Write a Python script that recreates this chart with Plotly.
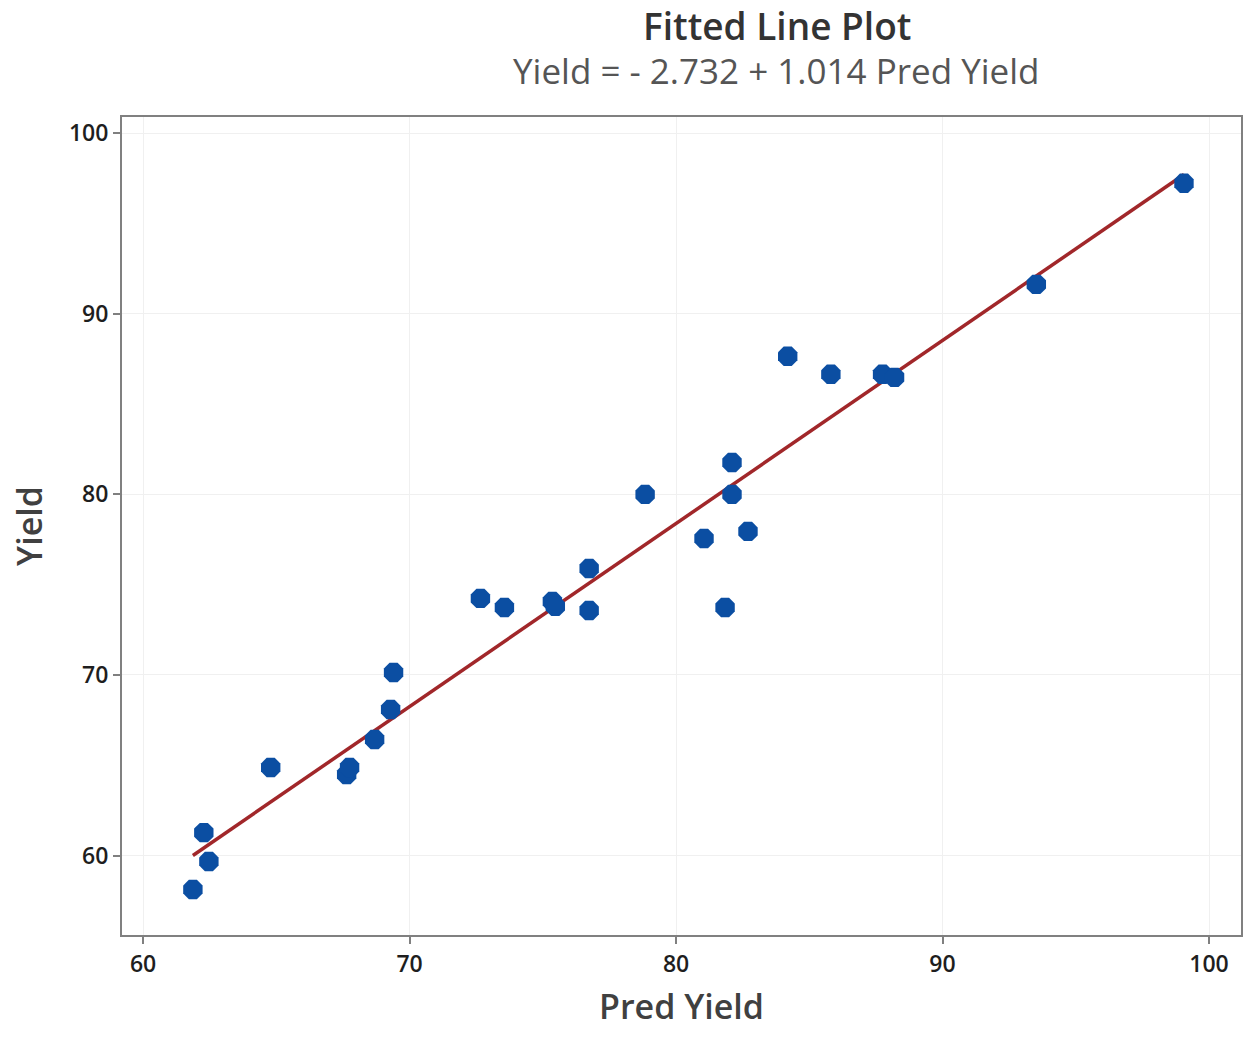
import plotly.graph_objects as go

pred_yield = [61.87, 62.28, 62.47, 64.79, 67.64, 67.75, 68.69, 69.29, 69.40,
              72.66, 73.56, 75.36, 75.47, 76.74, 76.74, 78.84, 81.05, 81.84,
              82.10, 82.10, 82.70, 84.19, 85.81, 87.75, 88.20, 93.52, 99.06]
yield_vals = [58.12, 61.27, 59.67, 64.88, 64.49, 64.88, 66.43, 68.09, 70.14,
              74.24, 73.74, 74.07, 73.80, 75.90, 73.57, 80.00, 77.56, 73.74,
              81.77, 80.00, 77.95, 87.65, 86.65, 86.65, 86.48, 91.63, 97.23]
intercept = -2.732
slope = 1.014
x_ticks = [60, 70, 80, 90, 100]
y_ticks = [60, 70, 80, 90, 100]

xmin, xmax = min(pred_yield), max(pred_yield)
line_x = [xmin, xmax]
line_y = [intercept + slope * v for v in line_x]

FONT = "Open Sans"
W, H = 1250, 1038
pl, pr, pt, pb = 122, 7, 117, 103

fig = go.Figure()
fig.add_trace(go.Scatter(x=line_x, y=line_y, mode="lines",
                         line=dict(color="#A1272A", width=3.5),
                         showlegend=False, hoverinfo="skip"))
fig.add_trace(go.Scatter(x=pred_yield, y=yield_vals, mode="markers",
                         marker=dict(symbol="octagon", size=21, color="#0B4EA2",
                                     line=dict(width=0)),
                         showlegend=False))

axis_common = dict(showline=True, linecolor="#808080", linewidth=2, mirror=True,
                   showgrid=True, gridcolor="#F0F0F0", gridwidth=1,
                   ticks="outside", ticklen=7, tickwidth=2, tickcolor="#808080",
                   zeroline=False,
                   tickfont=dict(family=FONT, size=23, color="#1E1E1E", weight=600))

pw, ph = W - pl - pr, H - pt - pb
def px_to_paper(xp, yp):
    return (xp - pl) / pw, (H - pb - yp) / ph

t0 = px_to_paper(778, 25)
t1 = px_to_paper(777, 70)

fig.update_layout(
    width=W, height=H,
    paper_bgcolor="white", plot_bgcolor="white",
    margin=dict(l=pl, r=pr, t=pt, b=pb),
    xaxis=dict(range=[59.21, 101.2], tickvals=x_ticks, **axis_common,
               title=dict(text="Pred Yield", standoff=18,
                          font=dict(family=FONT, size=34, color="#404040", weight=600))),
    yaxis=dict(range=[55.6, 100.9], tickvals=y_ticks, **axis_common,
               title=dict(text="Yield", standoff=16,
                          font=dict(family=FONT, size=34, color="#404040", weight=600))),
    annotations=[
        dict(text="Fitted Line Plot", x=t0[0], y=t0[1], xref="paper", yref="paper",
             xanchor="center", yanchor="middle", showarrow=False,
             font=dict(family=FONT, size=37, color="#333333", weight=600)),
        dict(text="Yield = - 2.732 + 1.014 Pred Yield", x=t1[0], y=t1[1],
             xref="paper", yref="paper", xanchor="center", yanchor="middle",
             showarrow=False, font=dict(family=FONT, size=35, color="#555555")),
    ],
)

fig.write_html("out.html", config={"displayModeBar": False},
               post_script="document.body.style.margin='0px';")
